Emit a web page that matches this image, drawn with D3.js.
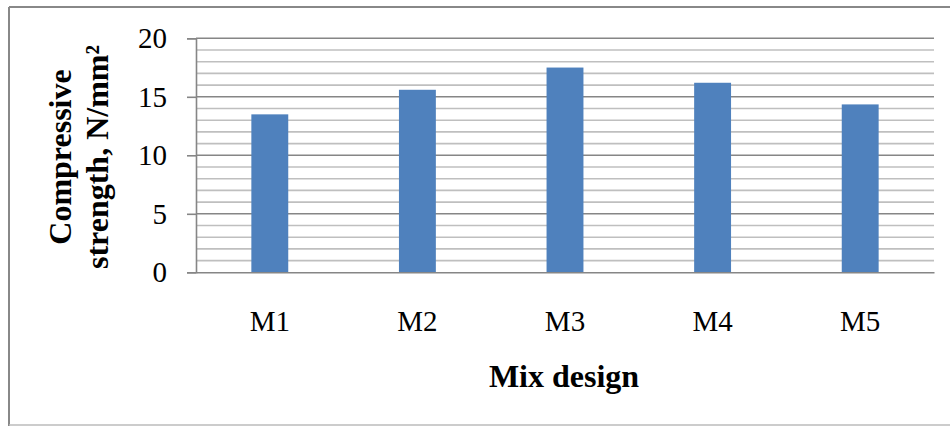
<!DOCTYPE html>
<html>
<head>
<meta charset="utf-8">
<script src="https://cdn.jsdelivr.net/npm/d3@7"></script>
<style>
  html, body { margin: 0; padding: 0; background: #fff; }
  svg { display: block; }
</style>
</head>
<body>
<svg id="chart" width="950" height="426"></svg>
<script>
const categories = ["M1", "M2", "M3", "M4", "M5"];
const strengths = [13.5, 15.6, 17.5, 16.2, 14.35];
const majorTicks = [0, 5, 10, 15, 20];
const minorTicks = d3.range(0, 21, 1);
const yTitleLines = ["Compressive", "strength, N/mm²"];
const xTitle = "Mix design";

const W = 950, H = 426;
const plot = { left: 196, right: 934, top: 38.3, bottom: 272.3 };
const svg = d3.select("#chart");

// outer frame
svg.append("line").attr("x1", 9).attr("x2", 950).attr("y1", 7).attr("y2", 7)
  .attr("stroke", "#888").attr("stroke-width", 2);
svg.append("line").attr("x1", 9).attr("x2", 9).attr("y1", 7).attr("y2", 426)
  .attr("stroke", "#888").attr("stroke-width", 2);
svg.append("line").attr("x1", 9).attr("x2", 950).attr("y1", 425).attr("y2", 425)
  .attr("stroke", "#bbb").attr("stroke-width", 1.5);

const x = d3.scaleBand().domain(categories).range([plot.left, plot.right]).padding(0);
const y = d3.scaleLinear().domain([0, 20]).range([plot.bottom, plot.top]);

// minor gridlines
svg.append("g").selectAll("line").data(minorTicks.filter(v => v % 5 !== 0)).join("line")
  .attr("x1", plot.left).attr("x2", plot.right)
  .attr("y1", d => y(d)).attr("y2", d => y(d))
  .attr("stroke", "#bfbfbf").attr("stroke-width", 1.6);
// major gridlines
svg.append("g").selectAll("line").data(majorTicks.filter(v => v !== 0)).join("line")
  .attr("x1", plot.left).attr("x2", plot.right)
  .attr("y1", d => y(d)).attr("y2", d => y(d))
  .attr("stroke", "#868686").attr("stroke-width", 1.6);

// bars
const barW = x.bandwidth() * 0.25;
svg.append("g").selectAll("rect").data(categories).join("rect")
  .attr("x", d => x(d) + x.bandwidth() / 2 - barW / 2)
  .attr("width", barW)
  .attr("y", (d, i) => y(strengths[i]))
  .attr("height", (d, i) => y(0) - y(strengths[i]))
  .attr("fill", "#4F81BD");

// y axis
const yAxis = svg.append("g").attr("transform", `translate(${plot.left},0)`)
  .call(d3.axisLeft(y).tickValues(majorTicks).tickSize(9).tickPadding(20).tickFormat(d3.format("d")));
yAxis.select(".domain").attr("stroke", "#868686").attr("stroke-width", 1.6);
yAxis.selectAll(".tick line").attr("stroke", "#868686").attr("stroke-width", 1.6);
yAxis.selectAll(".tick text")
  .attr("font-family", "'Liberation Serif', 'Times New Roman', serif")
  .attr("font-size", 29).attr("fill", "#000");

// x axis
const xAxis = svg.append("g").attr("transform", `translate(0,${plot.bottom})`)
  .call(d3.axisBottom(x).tickSize(0).tickPadding(38));
xAxis.select(".domain").attr("stroke", "#868686").attr("stroke-width", 1.6);
xAxis.selectAll(".tick text")
  .attr("font-family", "'Liberation Serif', 'Times New Roman', serif")
  .attr("font-size", 29).attr("fill", "#000");

// axis titles
svg.append("text").attr("x", (plot.left + plot.right) / 2 - 1).attr("y", 387)
  .attr("text-anchor", "middle")
  .attr("font-family", "'Liberation Serif', 'Times New Roman', serif")
  .attr("font-weight", "bold").attr("font-size", 32).attr("fill", "#000")
  .text(xTitle);

const yt = svg.append("text")
  .attr("transform", "translate(0,157) rotate(-90)")
  .attr("text-anchor", "middle")
  .attr("font-family", "'Liberation Serif', 'Times New Roman', serif")
  .attr("font-weight", "bold").attr("font-size", 32).attr("fill", "#000");
yt.selectAll("tspan").data(yTitleLines).join("tspan")
  .attr("x", 0).attr("y", (d, i) => 71 + i * 37)
  .text(d => d);
</script>
</body>
</html>
